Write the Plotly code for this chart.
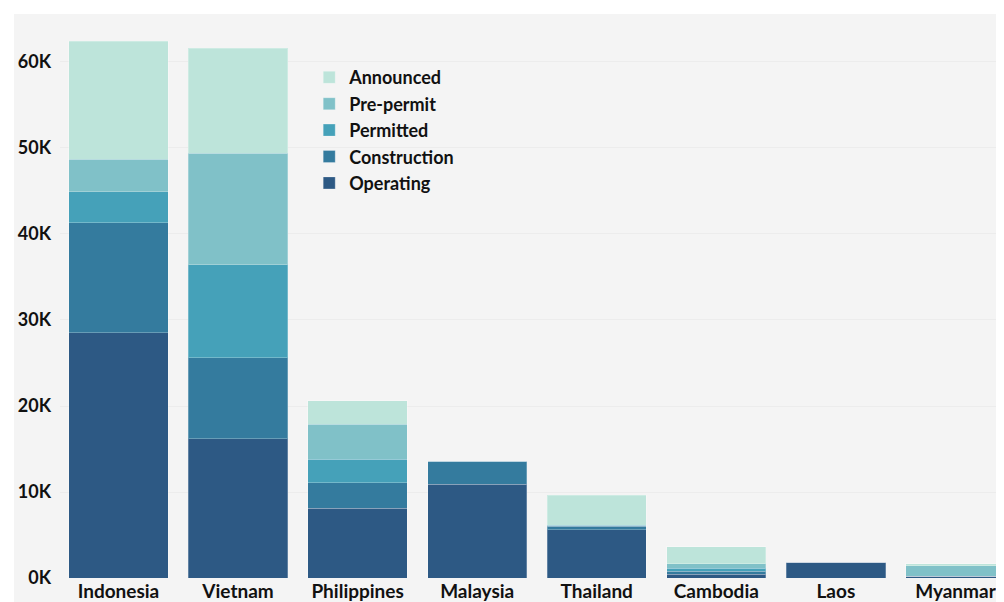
import plotly.graph_objects as go

countries = ["Indonesia", "Vietnam", "Philippines", "Malaysia", "Thailand", "Cambodia", "Laos", "Myanmar"]
operating = [28500, 16200, 8100, 10900, 5600, 430, 1860, 200]
construction = [12800, 9400, 3000, 2700, 400, 380, 0, 0]
permitted = [3600, 10800, 2700, 0, 130, 350, 0, 0]
pre_permit = [3800, 13000, 4100, 0, 0, 470, 0, 1200]
announced = [13700, 12200, 2700, 0, 3500, 2000, 0, 250]

series = [
    ("Operating", operating, "#2d5984"),
    ("Construction", construction, "#347b9e"),
    ("Permitted", permitted, "#45a1b9"),
    ("Pre-permit", pre_permit, "#80c1c8"),
    ("Announced", announced, "#bde4da"),
]

tick_vals = [0, 10000, 20000, 30000, 40000, 50000, 60000]
tick_text = ["0K", "10K", "20K", "30K", "40K", "50K", "60K"]

FONT = "Lato"

fig = go.Figure()
for name, vals, color in series:
    fig.add_trace(go.Bar(
        x=countries, y=vals, name=name,
        marker=dict(color=color, line=dict(color="rgba(255,255,255,0.25)", width=1)),
    ))

fig.update_layout(
    barmode="stack",
    bargap=0.17,
    width=996, height=594,
    margin=dict(l=52, r=0, t=6, b=24, autoexpand=False),
    paper_bgcolor="#f4f4f4",
    plot_bgcolor="#f4f4f4",
    font=dict(family=FONT, size=18, color="#111111"),
    showlegend=True,
    legend=dict(
        x=0.264, y=0.92, xanchor="left", yanchor="top",
        traceorder="reversed",
        bgcolor="rgba(0,0,0,0)",
        font=dict(family=FONT, size=18, color="#111111", weight="bold"),
        itemclick=False,
    ),
    xaxis=dict(
        range=[-0.489, 7.406],
        showgrid=False, zeroline=False, showline=False,
        ticks="", ticklabelstandoff=0, automargin=False,
        tickfont=dict(family=FONT, size=19, color="#111111", weight="bold"),
    ),
    yaxis=dict(
        range=[0, 65580],
        tickvals=tick_vals, ticktext=tick_text,
        showgrid=True, gridcolor="#ececec", gridwidth=1,
        zeroline=False, showline=False, ticks="",
        ticklabelstandoff=8, automargin=False,
        tickfont=dict(family=FONT, size=18, color="#111111", weight="bold"),
    ),
    shapes=[
        dict(type="rect", xref="paper", yref="paper", x0=-1, x1=2, y0=1.0, y1=1.2,
             fillcolor="white", line=dict(width=0), layer="above"),
        dict(type="rect", xref="paper", yref="paper", x0=-0.2, x1=-0.0487, y0=-0.2, y1=1.2,
             fillcolor="white", line=dict(width=0), layer="above"),
    ],
)

fig.write_html("out.html")
